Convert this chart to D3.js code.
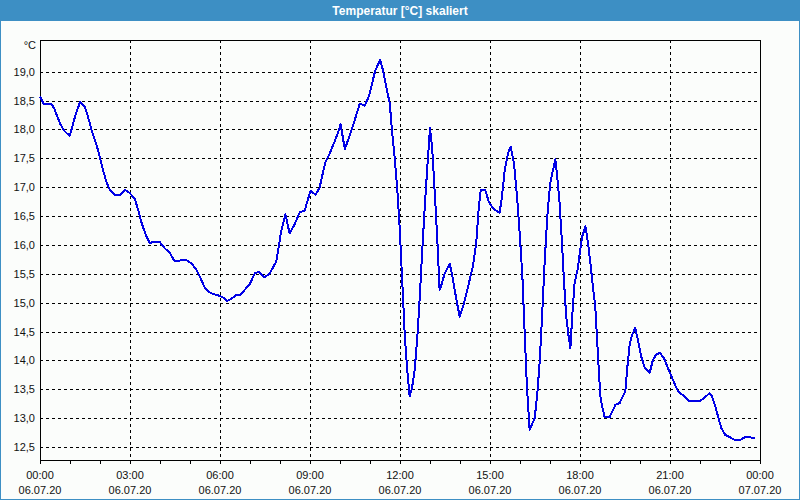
<!DOCTYPE html>
<html>
<head>
  <meta charset="utf-8">
  <title>Temperatur skaliert</title>
  <script src="https://d3js.org/d3.v7.min.js"></script>
  <style type="text/css">
    body { margin: 0; padding: 0; background: #ffffff; }
    text { font-family: "Liberation Sans", Arial, sans-serif; }
  </style>
</head>
<body>
<script>

var width = 800;
var height = 500;

// hours since 06.07.20 00:00
var hours = [
  0.00, 0.13, 0.38, 0.47, 0.58, 0.69, 0.82, 0.99, 1.08, 1.18, 1.34, 1.49, 1.60, 1.73, 1.88, 1.99,
  2.10, 2.21, 2.32, 2.49, 2.69, 2.84, 2.99, 3.16, 3.27, 3.40, 3.54, 3.66, 3.80, 3.99, 4.16, 4.32,
  4.47, 4.66, 4.88, 5.07, 5.21, 5.34, 5.49, 5.62, 5.77, 5.93, 6.10, 6.24, 6.38, 6.54, 6.69, 6.82,
  6.99, 7.16, 7.29, 7.49, 7.66, 7.77, 7.88, 7.96, 8.04, 8.18, 8.32, 8.49, 8.66, 8.82, 8.96, 9.02,
  9.18, 9.32, 9.43, 9.51, 9.66, 9.82, 9.93, 10.02, 10.16, 10.32, 10.49, 10.66, 10.82, 10.96, 11.07, 11.18,
  11.34, 11.43, 11.54, 11.66, 11.73, 11.82, 11.91, 11.99, 12.04, 12.10, 12.16, 12.24, 12.32, 12.40, 12.49, 12.58,
  12.66, 12.73, 12.82, 12.91, 13.00, 13.07, 13.16, 13.24, 13.32, 13.40, 13.49, 13.66, 13.77, 13.88, 13.99, 14.10,
  14.27, 14.43, 14.54, 14.62, 14.69, 14.84, 14.96, 15.10, 15.32, 15.40, 15.49, 15.60, 15.69, 15.80, 15.91, 15.99,
  16.08, 16.16, 16.23, 16.32, 16.40, 16.49, 16.58, 16.66, 16.73, 16.82, 16.91, 17.00, 17.10, 17.18, 17.24, 17.32,
  17.40, 17.47, 17.54, 17.62, 17.68, 17.74, 17.82, 17.93, 17.99, 18.07, 18.18, 18.27, 18.36, 18.43, 18.51, 18.57,
  18.62, 18.68, 18.74, 18.82, 18.99, 19.08, 19.18, 19.32, 19.43, 19.51, 19.58, 19.66, 19.74, 19.84, 19.93, 20.04,
  20.16, 20.32, 20.43, 20.54, 20.66, 20.80, 20.93, 21.10, 21.27, 21.40, 21.54, 21.66, 21.82, 21.99, 22.13, 22.32,
  22.40, 22.51, 22.60, 22.71, 22.84, 22.99, 23.13, 23.38, 23.49, 23.66, 23.84
];

var temps = [
  18.57, 18.44, 18.44, 18.37, 18.22, 18.08, 17.97, 17.89, 18.05, 18.25, 18.48, 18.40, 18.22, 17.97, 17.74, 17.53,
  17.30, 17.10, 16.96, 16.87, 16.87, 16.95, 16.90, 16.80, 16.61, 16.36, 16.16, 16.03, 16.06, 16.05, 15.94, 15.87,
  15.73, 15.73, 15.74, 15.67, 15.57, 15.44, 15.26, 15.19, 15.15, 15.13, 15.09, 15.03, 15.07, 15.13, 15.14, 15.22,
  15.32, 15.51, 15.53, 15.44, 15.51, 15.61, 15.72, 15.98, 16.24, 16.53, 16.20, 16.36, 16.57, 16.59, 16.84, 16.94,
  16.87, 16.99, 17.25, 17.43, 17.59, 17.79, 17.94, 18.09, 17.66, 17.89, 18.16, 18.45, 18.41, 18.57, 18.80, 19.03,
  19.20, 19.03, 18.74, 18.45, 17.99, 17.53, 16.96, 16.30, 15.74, 15.11, 14.42, 13.84, 13.38, 13.52, 13.84, 14.42,
  15.11, 15.80, 16.61, 17.35, 18.02, 17.70, 16.89, 16.14, 15.22, 15.34, 15.51, 15.67, 15.39, 15.05, 14.76, 14.93,
  15.28, 15.63, 16.03, 16.61, 16.95, 16.95, 16.75, 16.63, 16.56, 16.84, 17.30, 17.59, 17.70, 17.41, 16.78, 16.20,
  15.45, 14.42, 13.55, 12.80, 12.89, 13.00, 13.44, 14.01, 14.70, 15.68, 16.49, 17.04, 17.30, 17.48, 17.18, 16.72,
  16.03, 15.34, 14.76, 14.42, 14.21, 14.76, 15.34, 15.60, 15.85, 16.14, 16.32, 16.03, 15.62, 15.28, 14.93, 14.36,
  13.89, 13.38, 13.20, 13.02, 13.02, 13.12, 13.23, 13.26, 13.38, 13.46, 13.89, 14.30, 14.44, 14.56, 14.36, 14.07,
  13.87, 13.78, 14.01, 14.10, 14.13, 14.04, 13.87, 13.66, 13.46, 13.41, 13.35, 13.29, 13.29, 13.29, 13.35, 13.43,
  13.38, 13.20, 13.03, 12.83, 12.71, 12.67, 12.63, 12.63, 12.67, 12.67, 12.65
];

var yTicks = [12.5, 13.0, 13.5, 14.0, 14.5, 15.0, 15.5, 16.0, 16.5, 17.0, 17.5, 18.0, 18.5, 19.0];
var title = "Temperatur [°C] skaliert";
var unit = "°C";

var start = new Date(2020, 6, 6, 0, 0);
var end = new Date(2020, 6, 7, 0, 0);

var data = hours.map(function (h, i) {
  return { t: new Date(start.getTime() + h * 3600000), v: temps[i] };
});

var plot = { left: 40, right: 760, top: 40, bottom: 460 };

var x = d3.scaleTime().domain([start, end]).range([plot.left, plot.right]);
var y = d3.scaleLinear().domain([12.275, 19.55]).range([plot.bottom, plot.top]);

var de = d3.formatLocale({ decimal: ",", thousands: ".", grouping: [3], currency: ["", " €"] });
var fmtY = de.format(".1f");

var svg = d3.select("body").append("svg")
  .attr("width", width)
  .attr("height", height);

// window background + border
svg.append("rect")
  .attr("x", 0.5).attr("y", 0.5)
  .attr("width", width - 1).attr("height", height - 1)
  .attr("fill", "#fbfdfb")
  .attr("stroke", "#3d8fc4")
  .attr("stroke-width", 1);

// title bar
svg.append("rect")
  .attr("x", 0).attr("y", 0)
  .attr("width", width).attr("height", 21)
  .attr("fill", "#3d8fc4");

svg.append("text")
  .attr("x", width / 2).attr("y", 15)
  .attr("text-anchor", "middle")
  .attr("fill", "#ffffff")
  .attr("font-size", "12px")
  .attr("font-weight", "bold")
  .text(title);

// horizontal grid
svg.append("g").selectAll("line")
  .data(yTicks)
  .enter().append("line")
  .attr("x1", plot.left).attr("x2", plot.right)
  .attr("y1", function (d) { return Math.round(y(d)) + 0.5; })
  .attr("y2", function (d) { return Math.round(y(d)) + 0.5; })
  .attr("stroke", "#000")
  .attr("stroke-dasharray", "3,3")
  .attr("shape-rendering", "crispEdges");

// vertical grid every 3h
var majorTimes = d3.timeHour.every(3).range(start, d3.timeHour.offset(end, 1));
svg.append("g").selectAll("line")
  .data(majorTimes)
  .enter().append("line")
  .attr("x1", function (d) { return Math.round(x(d)) + 0.5; })
  .attr("x2", function (d) { return Math.round(x(d)) + 0.5; })
  .attr("y1", plot.top).attr("y2", plot.bottom)
  .attr("stroke", "#000")
  .attr("stroke-dasharray", "3,3")
  .attr("shape-rendering", "crispEdges");

// frame
svg.append("rect")
  .attr("x", plot.left + 0.5).attr("y", plot.top + 0.5)
  .attr("width", plot.right - plot.left).attr("height", plot.bottom - plot.top)
  .attr("fill", "none")
  .attr("stroke", "#000")
  .attr("shape-rendering", "crispEdges");

// x axis: hourly ticks, labels drawn separately (two lines)
var xAxis = d3.axisBottom(x)
  .ticks(d3.timeHour.every(1))
  .tickSize(3)
  .tickFormat("");

var gx = svg.append("g")
  .attr("transform", "translate(0," + (plot.bottom + 0.5) + ")")
  .call(xAxis);
gx.select(".domain").remove();
gx.selectAll("line").attr("stroke", "#000").attr("shape-rendering", "crispEdges");

var fmtTime = d3.timeFormat("%H:%M");
var fmtDate = d3.timeFormat("%d.%m.%y");

var xl = svg.append("g").selectAll("text")
  .data(majorTimes)
  .enter().append("text")
  .attr("text-anchor", "middle")
  .attr("font-size", "11px")
  .attr("fill", "#111");
xl.append("tspan")
  .attr("x", function (d) { return x(d); })
  .attr("y", 479)
  .text(function (d) { return fmtTime(d); });
xl.append("tspan")
  .attr("x", function (d) { return x(d); })
  .attr("y", 494)
  .text(function (d) { return fmtDate(d); });

// y labels
svg.append("g").selectAll("text")
  .data(yTicks)
  .enter().append("text")
  .attr("x", 35)
  .attr("y", function (d) { return y(d) + 4; })
  .attr("text-anchor", "end")
  .attr("font-size", "11px")
  .attr("fill", "#111")
  .text(function (d) { return fmtY(d); });

svg.append("text")
  .attr("x", 36).attr("y", 49)
  .attr("text-anchor", "end")
  .attr("font-size", "11px")
  .attr("fill", "#111")
  .text(unit);

// the temperature line (no antialiasing, like the original)
var line = d3.line()
  .x(function (d) { return x(d.t); })
  .y(function (d) { return y(d.v); });

svg.append("path")
  .datum(data)
  .attr("d", line)
  .attr("fill", "none")
  .attr("stroke", "#0000e6")
  .attr("stroke-width", 2)
  .attr("stroke-linejoin", "round")
  .attr("shape-rendering", "crispEdges");

</script>
</body>
</html>
